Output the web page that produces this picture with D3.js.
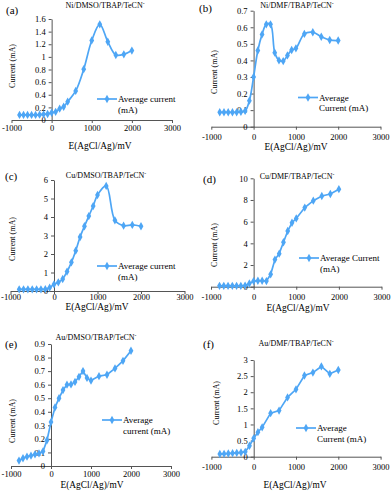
<!DOCTYPE html>
<html>
<head>
<meta charset="utf-8">
<script src="https://cdn.jsdelivr.net/npm/d3@7"></script>
<style>
  html, body { margin: 0; padding: 0; background: #fff; }
  text { font-family: "Liberation Serif", "DejaVu Serif", serif; fill: #000; }
</style>
</head>
<body>
<div id="chart"></div>
<script>
// potentials (mV) and average currents (mA)
const potA = [-800,-700,-600,-500,-400,-300,-200,-100,0,100,200,300,400,600,800,1000,1200,1400,1600,1800,2000];
const curA = [0.08,0.08,0.08,0.08,0.08,0.085,0.09,0.095,0.115,0.13,0.18,0.21,0.29,0.46,0.805,1.26,1.515,1.24,1.03,1.04,1.1];

const potB = [-800,-700,-600,-500,-400,-300,-200,-100,0,100,200,300,400,500,600,700,800,900,1000,1200,1400,1600,1800,2000];
const curB = [0.087,0.087,0.087,0.087,0.087,0.09,0.095,0.157,0.30,0.46,0.557,0.618,0.618,0.447,0.40,0.396,0.43,0.463,0.473,0.56,0.57,0.543,0.523,0.52];

const potC = [-800,-700,-600,-500,-400,-300,-200,-100,0,100,200,300,400,500,600,700,800,900,1000,1200,1400,1600,1800,2000];
const curC = [0.09,0.09,0.09,0.09,0.09,0.09,0.1,0.18,0.36,0.47,0.65,1.05,1.55,2.18,2.92,3.5,4.05,4.59,5.19,5.68,3.82,3.53,3.57,3.5];

const potD = [-800,-700,-600,-500,-400,-300,-200,-100,0,100,200,300,400,500,600,700,800,900,1000,1200,1400,1600,1800,2000];
const curD = [0.08,0.08,0.08,0.08,0.08,0.08,0.1,0.3,0.52,0.55,0.55,0.52,1.14,2.5,3.05,4.1,5.14,5.9,6.3,7.3,7.94,8.37,8.55,9.0];

const potE = [-800,-700,-600,-500,-400,-300,-200,-100,0,100,200,300,400,500,600,700,800,900,1000,1200,1400,1600,1800,2000];
const curE = [0.04,0.057,0.069,0.076,0.086,0.093,0.108,0.19,0.324,0.432,0.5,0.56,0.6,0.602,0.62,0.658,0.70,0.65,0.63,0.663,0.673,0.72,0.776,0.85];

const potF = [-800,-700,-600,-500,-400,-300,-200,-100,0,100,200,400,600,800,1000,1200,1400,1600,1800,2000];
const curF = [0.083,0.09,0.1,0.11,0.12,0.13,0.15,0.34,0.57,0.76,0.91,1.35,1.43,1.84,2.09,2.52,2.61,2.8,2.57,2.69];

const xTicks = [-1000, 0, 1000, 2000, 3000];
const yTicksA = [0,0.2,0.4,0.6,0.8,1,1.2,1.4,1.6];
const yTicksB = [0,0.1,0.2,0.3,0.4,0.5,0.6,0.7];
const yTicksC = [0,1,2,3,4,5,6];
const yTicksD = [0,2,4,6,8,10];
const yTicksE = [0,0.1,0.2,0.3,0.4,0.5,0.6,0.7,0.8,0.9];
const yTicksF = [0,0.5,1,1.5,2,2.5,3];

const titles = ["Ni/DMSO/TBAP/TeCN", "Ni/DMF/TBAP/TeCN", "Cu/DMSO/TBAP/TeCN",
                "Cu/DMF/TBAP/TeCN", "Au/DMSO/TBAP/TeCN", "Au/DMF/TBAP/TeCN"];
const legends = [["Average current","(mA)"], ["Average","Current (mA)"], ["Average current","(mA)"],
                 ["Average Current","(mA)"], ["Average","current (mA)"], ["Average","Current (mA)"]];
const letters = ["(a)","(b)","(c)","(d)","(e)","(f)"];

const color = "#4ea6f5";
const axisColor = "#555";

const panels = [
  {pot: potA, cur: curA, yt: yTicksA, xr: [11.5,172], yr: [120,19], smooth: true,
   letter: [6,14], title: [105,8], pad: 2, xl: [100,149], yl: [12,66], lg: [97,99]},
  {pot: potB, cur: curB, yt: yTicksB, xr: [211.3,380.5], yr: [126.7,10.7], smooth: true,
   letter: [199,12], title: [297,8], pad: 4, xl: [296,150], yl: [214,72], lg: [298,97.5]},
  {pot: potC, cur: curC, yt: yTicksC, xr: [10.5,184.5], yr: [291,180], smooth: true,
   letter: [5,180], title: [106,178], pad: 0, xl: [97,310], yl: [12,239], lg: [97,266]},
  {pot: potD, cur: curD, yt: yTicksD, xr: [211,381.5], yr: [286.7,178.3], smooth: false,
   letter: [203,183], title: [297,179], pad: 4, xl: [298,311], yl: [214,245], lg: [299,258]},
  {pot: potE, cur: curE, yt: yTicksE, xr: [11,171], yr: [466,344], smooth: false,
   letter: [5,348], title: [96,340], pad: 2, xl: [92,488], yl: [12,421], lg: [102,420]},
  {pot: potF, cur: curF, yt: yTicksF, xr: [211.4,380.6], yr: [456.7,360], smooth: false,
   letter: [203,348], title: [296,346], pad: 4, xl: [295,488], yl: [216,403], lg: [296,428]}
];

const svg = d3.select("#chart").append("svg")
  .attr("width", 392).attr("height", 491)
  .style("background", "#fff");

const diamond = d3.symbol(d3.symbolDiamond, 20);

panels.forEach((p, i) => {
  const x = d3.scaleLinear().domain([-1000, 3000]).range(p.xr);
  const y = d3.scaleLinear().domain([0, d3.max(p.yt)]).range(p.yr);
  const g = svg.append("g");

  const xAxis = g.append("g")
    .attr("transform", `translate(0,${y(0)})`)
    .call(d3.axisBottom(x).tickValues(xTicks).tickSize(3).tickPadding(p.pad)
      .tickSizeOuter(0).tickFormat(d => String(d)));

  const yAxis = g.append("g")
    .attr("transform", `translate(${x(0)},0)`)
    .call(d3.axisLeft(y).tickValues(p.yt).tickSize(3).tickPadding(3)
      .tickSizeOuter(0).tickFormat(d => String(d)));

  [xAxis, yAxis].forEach(a => {
    a.attr("font-family", null);
    a.select(".domain").attr("stroke", axisColor);
    a.selectAll(".tick line").attr("stroke", axisColor);
    a.selectAll(".tick text").attr("font-size", 8.5).attr("fill", "#000");
  });

  const pts = p.pot.map((v, k) => [v, p.cur[k]]);
  const line = d3.line()
    .x(d => x(d[0])).y(d => y(d[1]))
    .curve(p.smooth ? d3.curveCatmullRom.alpha(0.5) : d3.curveLinear);

  g.append("path").datum(pts)
    .attr("d", line).attr("fill", "none")
    .attr("stroke", color).attr("stroke-width", 1.7);

  g.append("g").selectAll("path").data(pts).join("path")
    .attr("transform", d => `translate(${x(d[0])},${y(d[1])})`)
    .attr("d", diamond).attr("fill", color);

  // panel letter
  g.append("text").attr("x", p.letter[0]).attr("y", p.letter[1])
    .attr("font-size", 11).text(letters[i]);

  // title with superscript minus
  const t = g.append("text").attr("x", p.title[0]).attr("y", p.title[1])
    .attr("text-anchor", "middle").attr("font-size", 8);
  t.append("tspan").text(titles[i]);
  t.append("tspan").attr("font-size", 5.5).attr("dy", -3.5).text("-");

  // axis titles
  g.append("text").attr("x", p.xl[0]).attr("y", p.xl[1])
    .attr("text-anchor", "middle").attr("font-size", 9.4).text("E(AgCl/Ag)/mV");
  g.append("text")
    .attr("transform", `translate(${p.yl[0] + 3},${p.yl[1]}) rotate(-90)`)
    .attr("text-anchor", "middle").attr("font-size", 8).text("Current (mA)");

  // legend
  const lx = p.lg[0], ly = p.lg[1];
  g.append("line").attr("x1", lx).attr("x2", lx + 20).attr("y1", ly).attr("y2", ly)
    .attr("stroke", color).attr("stroke-width", 1.7);
  g.append("path").attr("transform", `translate(${lx + 10},${ly})`)
    .attr("d", diamond).attr("fill", color);
  g.append("text").attr("x", lx + 21).attr("y", ly + 3)
    .attr("font-size", 9).text(legends[i][0]);
  g.append("text").attr("x", lx + 21).attr("y", ly + 13.5)
    .attr("font-size", 9).text(legends[i][1]);
});
</script>
</body>
</html>
